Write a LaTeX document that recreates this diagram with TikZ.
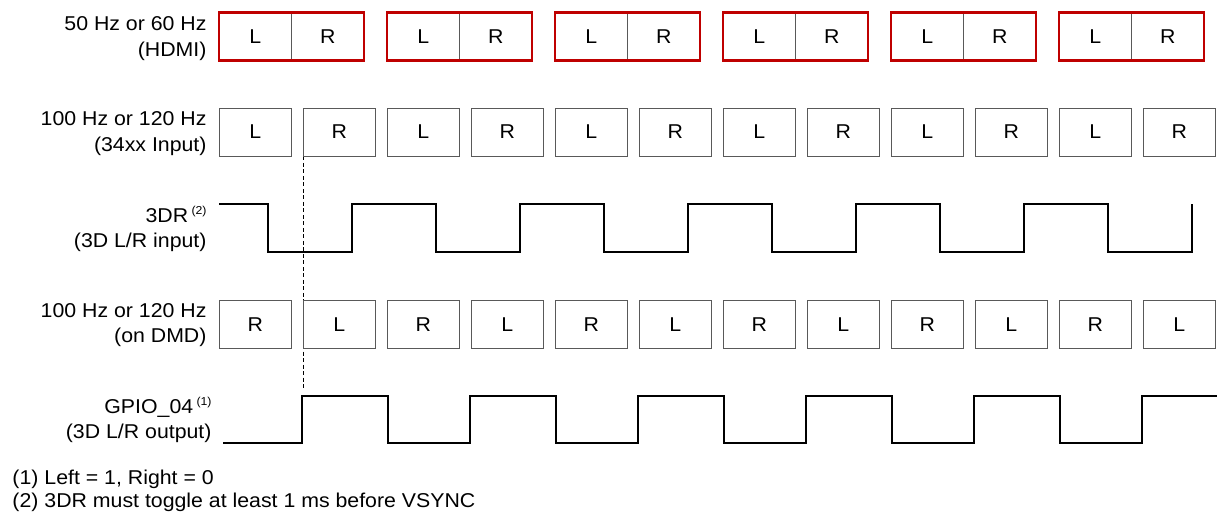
\documentclass[tikz,border=0pt]{standalone}
\usepackage{fontspec}
\setmainfont{Liberation Sans}[FakeStretch=1.065]
\usepackage{tikz}
\usetikzlibrary{positioning}
\newcommand{\fnmark}[1]{\,\raisebox{7.5pt}{\fontsize{11.5}{11.5}\selectfont #1}}

\begin{document}
\begin{tikzpicture}[x=1pt,y=-1pt,line width=1.0pt,font=\fontsize{20}{25.5}\selectfont,frm/.style={draw=black!65,line width=0.9pt,minimum width=72.5pt,minimum height=48pt,inner sep=0pt,outer sep=0pt},hdmi/.style={draw=red!75!black,line width=2.3pt},sig/.style={line width=2.9pt},lab/.style={align=right,anchor=east,inner sep=0pt}]
\useasboundingbox (0,0) rectangle (1217,518);
\coordinate (dtop) at (303.5,137); \coordinate (dbot) at (303.5,390);
\draw[dashed,dash pattern=on 4pt off 2.5pt,line width=0.8pt] (dtop) -- (dbot);
\foreach \i in {0,...,5}{\node[frm,anchor=north west] (hl\i) at (219+168*\i,12.5){L}; \node[frm,right=0pt of hl\i] (hr\i){R}; \draw[hdmi] (hl\i.north west) rectangle (hr\i.south east);};
\foreach \i in {0,...,5}{\node[frm,anchor=north west] (il\i) at (219+168*\i,108){L}; \node[frm,right=11.5pt of il\i] (ir\i){R};};
\foreach \i in {0,...,5}{\node[frm,anchor=north west] (dr\i) at (219+168*\i,300.5){R}; \node[frm,right=11.5pt of dr\i] (dl\i){L};};
\draw[sig] (219,204) foreach \k in {0,...,5}{ -| (268+168*\k,252) -| (352+168*\k,204) };
\draw[sig] (223,443) foreach \k in {0,...,4}{ -| (302+168*\k,396) -| (388+168*\k,443) } -| (1142,396) -- (1217,396);
\node[lab] (thdmi) at (207,38.4) {50 Hz or 60 Hz\\(HDMI)};
\node[lab] (tin) at (207,133.7) {100 Hz or 120 Hz\\(34xx Input)};
\node[lab] (t3dr) at (207,229.4) {3DR\fnmark{(2)}\\(3D L/R input)};
\node[lab] (tdmd) at (207,325.1) {100 Hz or 120 Hz\\(on DMD)};
\node[lab] (tgpio) at (212,420) {GPIO\_04\fnmark{(1)}\\(3D L/R output)};
\node[anchor=base west,inner sep=0pt] (fn1) at (12,484.3) {(1) Left = 1, Right = 0};
\node[anchor=base west,inner sep=0pt] (fn2) at (12,507.7) {(2) 3DR must toggle at least 1 ms before VSYNC};
\end{tikzpicture}
\end{document}
